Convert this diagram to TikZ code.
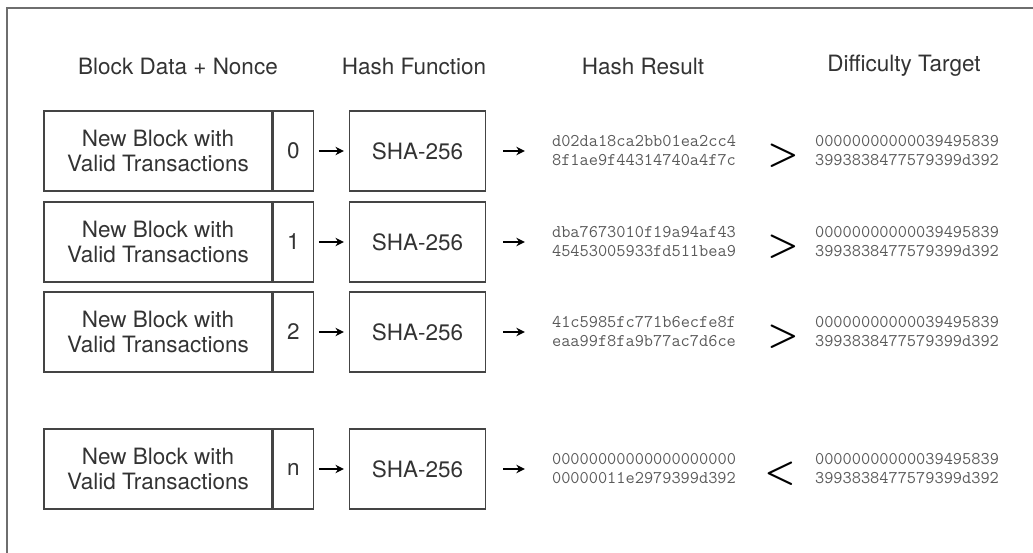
\documentclass[tikz,border=0pt]{standalone}
\usepackage{fontspec}
\setmainfont{TeX Gyre Heros}
\usetikzlibrary{arrows.meta,positioning}
\definecolor{pwtext}{HTML}{333333}
\definecolor{pwline}{HTML}{444444}
\definecolor{pwframe}{HTML}{6E6E6E}
\definecolor{pwhash}{HTML}{5A5A5A}
\tikzset{
  phead/.style   = {font=\fontsize{16}{19}\selectfont\color{pwtext}},
  pblock/.style  = {rectangle, draw=pwline, line width=0.9pt, minimum width=5.7cm,
                    minimum height=2cm, align=center, inner sep=0pt,
                    font=\fontsize{16}{18.4}\selectfont\color{pwtext}},
  pnonce/.style  = {rectangle, draw=pwline, line width=0.9pt, minimum width=1cm,
                    minimum height=2cm, inner sep=0pt,
                    font=\fontsize{16}{18.4}\selectfont\color{pwtext}},
  psha/.style    = {rectangle, draw=pwline, line width=0.9pt, minimum width=3.4cm,
                    minimum height=2cm, inner sep=0pt,
                    font=\fontsize{16}{18.4}\selectfont\color{pwtext}},
  phash/.style   = {align=left, inner sep=0pt,
                    font=\ttfamily\fontsize{12.7}{13.5}\selectfont\color{pwhash}},
  pcmp/.style    = {inner sep=0pt, font=\fontsize{27}{27}\selectfont\boldmath},
  parrow/.style  = {-{Stealth[length=6pt,width=6pt]}, line width=1.4pt, black},
}

\begin{document}
\begin{tikzpicture}[node distance=0.875cm]
\useasboundingbox (0,0) rectangle (25.825,-13.825);
\draw[pwframe, line width=1pt] (0.175,-13.825) -- (0.175,-0.2) -- (25.825,-0.2);

% column headers
\node[phead] (hdata)   at (4.45,-1.65)   {Block Data + Nonce};
\node[phead] (hfunc)   at (10.35,-1.65)  {Hash Function};
\node[phead] (hresult) at (16.075,-1.65) {Hash Result};
\node[phead] (htarget) at (22.6,-1.65)   {Difficulty Target};

% nonce 0
\node[pblock] (blk0) at (3.95,-3.775) {New Block with\\Valid Transactions};
\node[pnonce, right=0pt of blk0] (non0) {0};
\node[psha, right=of non0] (sha0) {SHA-256};
\node[phash] (res0) at (16.1,-3.775) {d02da18ca2bb01ea2cc4\\8f1ae9f44314740a4f7c};
\node[pcmp]  (cmp0) at (19.575,-3.9) {$>$};
\node[phash] (tgt0) at (22.675,-3.775) {00000000000039495839\\3993838477579399d392};

% nonce 1
\node[pblock] (blk1) at (3.95,-6.05) {New Block with\\Valid Transactions};
\node[pnonce, right=0pt of blk1] (non1) {1};
\node[psha, right=of non1] (sha1) {SHA-256};
\node[phash] (res1) at (16.1,-6.05) {dba7673010f19a94af43\\45453005933fd511bea9};
\node[pcmp]  (cmp1) at (19.575,-6.175) {$>$};
\node[phash] (tgt1) at (22.675,-6.05) {00000000000039495839\\3993838477579399d392};

% nonce 2
\node[pblock] (blk2) at (3.95,-8.3) {New Block with\\Valid Transactions};
\node[pnonce, right=0pt of blk2] (non2) {2};
\node[psha, right=of non2] (sha2) {SHA-256};
\node[phash] (res2) at (16.1,-8.3) {41c5985fc771b6ecfe8f\\eaa99f8fa9b77ac7d6ce};
\node[pcmp]  (cmp2) at (19.575,-8.425) {$>$};
\node[phash] (tgt2) at (22.675,-8.3) {00000000000039495839\\3993838477579399d392};

% nonce n
\node[pblock] (blkn) at (3.95,-11.725) {New Block with\\Valid Transactions};
\node[pnonce, right=0pt of blkn] (nonn) {n};
\node[psha, right=of nonn] (shan) {SHA-256};
\node[phash] (resn) at (16.1,-11.725) {00000000000000000000\\00000011e2979399d392};
\node[pcmp]  (cmpn) at (19.5,-11.85) {$<$};
\node[phash] (tgtn) at (22.675,-11.725) {00000000000039495839\\3993838477579399d392};

\draw[parrow, shorten <=0.125cm, shorten >=0.125cm] (non0) -- (sha0);
\draw[parrow, shorten <=0.125cm, shorten >=0.125cm] (non1) -- (sha1);
\draw[parrow, shorten <=0.125cm, shorten >=0.125cm] (non2) -- (sha2);
\draw[parrow, shorten <=0.125cm, shorten >=0.125cm] (nonn) -- (shan);

\draw[parrow, shorten <=0.425cm, shorten >=0.675cm] (sha0) -- (res0);
\draw[parrow, shorten <=0.425cm, shorten >=0.675cm] (sha1) -- (res1);
\draw[parrow, shorten <=0.425cm, shorten >=0.675cm] (sha2) -- (res2);
\draw[parrow, shorten <=0.425cm, shorten >=0.675cm] (shan) -- (resn);
\end{tikzpicture}
\end{document}
